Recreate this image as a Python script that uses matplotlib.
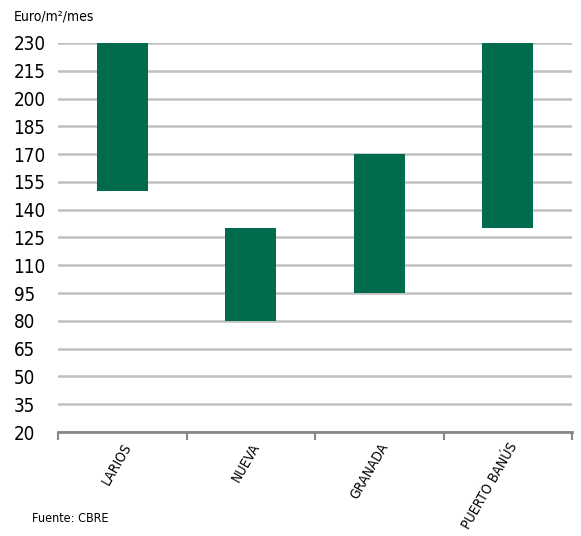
import matplotlib
matplotlib.use('Agg')
import matplotlib.pyplot as plt
import numpy as np

plt.rcParams['font.family'] = ['DejaVu Sans']
plt.rcParams['font.stretch'] = 'condensed'

# rango de rentas por calle (euro/m2/mes)
calles = ['LARIOS', 'NUEVA', 'GRANADA', 'PUERTO BANÚS']
renta_min = [150, 80, 95, 130]
renta_max = [230, 130, 170, 230]
yticks = list(range(20, 231, 15))

verde = '#006B4D'

fig = plt.figure(figsize=(5.81, 5.36), dpi=100)
ax = fig.add_axes([58 / 581, 104 / 536, 514 / 581, 389 / 536])

x = np.arange(len(calles))
alto = [hi - lo for lo, hi in zip(renta_min, renta_max)]
ax.bar(x, alto, bottom=renta_min, width=0.4, color=verde, zorder=3)

ax.set_xlim(-0.5, len(calles) - 0.5)
ax.set_ylim(20, 230)
ax.set_yticks(yticks)
ax.set_yticklabels([str(v) for v in yticks], fontsize=13.5)
for lab in ax.get_yticklabels():
    lab.set_horizontalalignment('left')
ax.tick_params(axis='y', length=0, pad=32)

ax.grid(axis='y', color='#c0c0c0', linewidth=1.8, zorder=0)
for s in ['left', 'right', 'top']:
    ax.spines[s].set_visible(False)
ax.spines['bottom'].set_color('#878787')
ax.spines['bottom'].set_linewidth(2)

# marcas entre categorías
ax.set_xticks(np.arange(-0.5, len(calles), 1.0))
ax.set_xticklabels([])
ax.tick_params(axis='x', length=6, width=1.5, color='#878787')
ax.set_xticks(x, minor=True)
ax.set_xticklabels(calles, minor=True, rotation=60, ha='right',
                   rotation_mode='anchor', fontsize=10)
ax.tick_params(axis='x', which='minor', length=0, pad=6)

fig.text(14 / 581, 1 - 17 / 536, 'Euro/m²/mes', fontsize=10, va='center', ha='left')
fig.text(32 / 581, 1 - 518 / 536, 'Fuente: CBRE', fontsize=9, va='center', ha='left')

fig.savefig('out.png', dpi=100)
